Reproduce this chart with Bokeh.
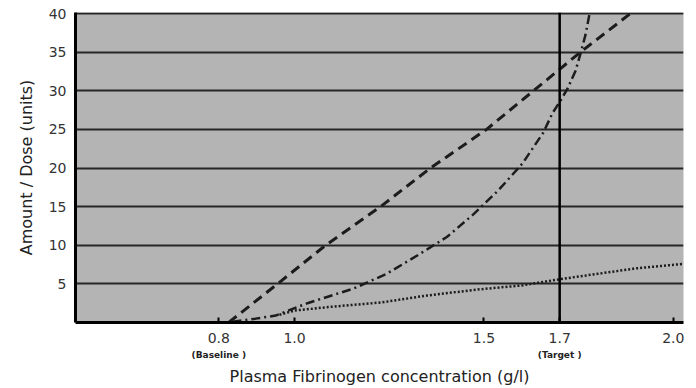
from bokeh.plotting import figure
from bokeh.models import Range1d, FixedTicker, Span, LinearAxis
from bokeh.embed import file_html
from bokeh.resources import INLINE

# ---- data ----
x_ticks = [0.8, 1.0, 1.5, 1.7, 2.0]
x_tick_labels = ["0.8", "1.0", "1.5", "1.7", "2.0"]
y_ticks = [5, 10, 15, 20, 25, 30, 35, 40]
baseline = 0.8
target = 1.7
baseline_label = "(Baseline )"
target_label = "(Target )"

dashed_x = [0.826, 0.955, 1.082, 1.227, 1.359, 1.507, 1.631, 1.755, 1.887]
dashed_y = [0, 5, 10, 15, 20, 25, 30, 35, 40]

dashdot_x = [0.836, 0.897, 0.950, 1.034, 1.156, 1.243, 1.325, 1.403, 1.472,
             1.538, 1.602, 1.657, 1.681, 1.702, 1.721, 1.742, 1.755, 1.768, 1.779]
dashdot_y = [0.1, 0.5, 0.9, 2.5, 4.4, 6.3, 8.7, 11.1, 14.0,
             17.1, 20.6, 24.6, 27.1, 28.7, 30.3, 32.6, 34.8, 37.2, 40.0]

dotted_x = [0.96, 1.0, 1.1, 1.23, 1.35, 1.49, 1.6, 1.7, 1.8, 1.9, 2.03]
dotted_y = [1.0, 1.55, 2.05, 2.6, 3.5, 4.3, 4.8, 5.6, 6.3, 7.0, 7.6]

FONT = "DejaVu Sans"
INK = "#1c1c1c"

p = figure(width=696, height=388,
           x_range=Range1d(0.4215, 2.027), y_range=Range1d(0, 40.13),
           output_backend="svg", toolbar_location=None,
           min_border_left=75, min_border_right=13,
           min_border_top=12, min_border_bottom=66)

p.background_fill_color = "#b4b4b4"
p.border_fill_color = "white"
p.outline_line_color = None

p.xgrid.visible = False
p.ygrid.ticker = FixedTicker(ticks=y_ticks)
p.ygrid.grid_line_color = "#262626"
p.ygrid.grid_line_width = 2

# primary x axis
xa = p.xaxis[0]
xa.ticker = FixedTicker(ticks=x_ticks)
xa.major_label_overrides = {t: l for t, l in zip(x_ticks, x_tick_labels)}
xa.axis_line_color = "black"
xa.axis_line_width = 3
xa.major_tick_in = 5
xa.major_tick_out = 0
xa.major_tick_line_width = 2
xa.major_tick_line_color = "black"
xa.minor_tick_line_color = None
xa.major_label_text_font = FONT
xa.major_label_text_font_size = "14px"
xa.major_label_text_color = "#333333"
xa.major_label_standoff = 10

# secondary axis carrying the "(Baseline )" / "(Target )" notes and the title
xb = LinearAxis(ticker=FixedTicker(ticks=[baseline, target]),
                major_label_overrides={baseline: baseline_label, target: target_label})
xb.axis_line_color = None
xb.major_tick_line_color = None
xb.minor_tick_line_color = None
xb.major_tick_in = 0
xb.major_tick_out = 0
xb.major_label_standoff = 4
xb.major_label_text_font = FONT
xb.major_label_text_font_size = "9px"
xb.major_label_text_font_style = "bold"
xb.major_label_text_color = "#222222"
xb.axis_label = "Plasma Fibrinogen concentration (g/l)"
xb.axis_label_text_font = FONT
xb.axis_label_text_font_size = "16px"
xb.axis_label_text_font_style = "normal"
xb.axis_label_text_color = "#222222"
xb.axis_label_standoff = 4
p.add_layout(xb, "below")

# y axis
ya = p.yaxis[0]
ya.ticker = FixedTicker(ticks=y_ticks)
ya.axis_line_color = "black"
ya.axis_line_width = 3
ya.major_tick_in = 0
ya.major_tick_out = 0
ya.minor_tick_line_color = None
ya.major_label_text_font = FONT
ya.major_label_text_font_size = "14px"
ya.major_label_text_color = "#333333"
ya.major_label_standoff = 9
ya.axis_label = "Amount / Dose (units)"
ya.axis_label_text_font = FONT
ya.axis_label_text_font_size = "16px"
ya.axis_label_text_font_style = "normal"
ya.axis_label_text_color = "#222222"
ya.axis_label_standoff = 10

# target line
p.add_layout(Span(location=target, dimension="height",
                  line_color="black", line_width=2.5))

# curves
p.line(dashed_x, dashed_y, line_color=INK, line_width=3, line_dash="10 6")
p.line(dashdot_x, dashdot_y, line_color=INK, line_width=2.5, line_dash="9 4 2 4")
p.line(dotted_x, dotted_y, line_color=INK, line_width=2.5, line_dash="2 2")

open("out.html", "w").write(file_html(p, INLINE))
